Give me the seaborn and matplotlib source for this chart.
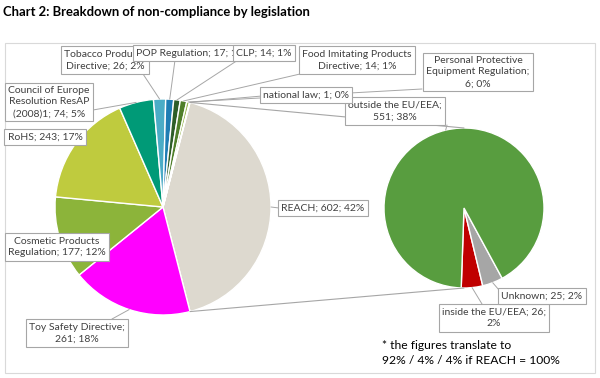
import matplotlib
matplotlib.use("Agg")
import matplotlib.pyplot as plt
import seaborn as sns
from matplotlib.patches import Rectangle
import numpy as np

# data
categories = ["REACH", "Toy Safety Directive", "Cosmetic Products Regulation", "RoHS",
              "Council of Europe Resolution ResAP (2008)1", "Tobacco Products Directive",
              "POP Regulation", "CLP", "Food Imitating Products Directive",
              "Personal Protective Equipment Regulation", "national law"]
counts = [602, 261, 177, 243, 74, 26, 17, 14, 14, 6, 1]
label_fmt = ["REACH; {v}; {p}%", "Toy Safety Directive;\n{v}; {p}%",
             "Cosmetic Products\nRegulation; {v}; {p}%", "RoHS; {v}; {p}%",
             "Council of Europe\nResolution ResAP\n(2008)1; {v}; {p}%",
             "Tobacco Products\nDirective; {v}; {p}%", "POP Regulation; {v}; {p}%",
             "CLP; {v}; {p}%", "Food Imitating Products\nDirective; {v}; {p}%",
             "Personal Protective\nEquipment Regulation;\n{v}; {p}%", "national law; {v}; {p}%"]

reach_parts = ["inside the EU/EEA", "Unknown", "outside the EU/EEA"]
reach_counts = [26, 25, 551]
reach_fmt = ["inside the EU/EEA; {v};\n{p}%", "Unknown; {v}; {p}%", "outside the EU/EEA;\n{v}; {p}%"]

colors_main = ["#DDD9CF", "#FF00FF", "#8CB43A", "#BFCB3E", "#009A77", "#4BACC6",
               "#1F7DB4", "#2E5E28", "#4F7F2A", "#9BBB59", "#C4D79B"]
colors_sub = ["#C00000", "#A6A6A6", "#589D3F"]

sns.set_style("white")
plt.rcParams["font.family"] = ["Lato", "DejaVu Sans"]

W, H = 600, 378
fig = plt.figure(figsize=(6, 3.78), dpi=100)
ax = fig.add_axes([0, 0, 1, 1])

def Y(y):  # pixel-from-top -> data
    return H - y

total = sum(counts)
c1, r1 = (163, Y(207)), 108
c2, r2 = (464, Y(208)), 80

start1 = 180 * counts[0] / total
w1, _ = ax.pie(counts, colors=colors_main, startangle=start1, counterclock=False,
               center=c1, radius=r1, wedgeprops=dict(edgecolor="white", linewidth=1))
w2, _ = ax.pie(reach_counts, colors=colors_sub, startangle=-92, counterclock=True,
               center=c2, radius=r2, wedgeprops=dict(edgecolor="white", linewidth=1))

ax.set_xlim(0, W)
ax.set_ylim(0, H)
ax.axis("off")

grey = "#A6A6A6"

# connector lines between pies
reach = w1[0]
for th, ty in [(reach.theta2, c2[1] + r2), (reach.theta1, c2[1] - r2)]:
    x0 = c1[0] + r1 * np.cos(np.radians(th))
    y0 = c1[1] + r1 * np.sin(np.radians(th))
    ax.plot([x0, c2[0]], [y0, ty], color=grey, lw=0.8, zorder=1)

def edge_point(w, c, r):
    m = np.radians((w.theta1 + w.theta2) / 2)
    return c[0] + r * np.cos(m), c[1] + r * np.sin(m)

# label box centres and leader anchors (px from top-left)
pos_main = [(323, 208), (77, 333), (57, 247), (45, 137), (49, 102), (105, 60),
            (191, 53), (264, 53), (357, 60), (478, 72), (306, 95)]
anchor_main = [(279, 208), (112, 319), None, None, (93, 110), (143, 74),
               (175, 60), (238, 60), (300, 74), (422, 89), (262, 96)]
z_main = [5, 5, 5, 5, 5, 5, 6, 7, 5, 5, 6]
pos_sub = [(494, 318), (542, 296), (395, 111)]
anchor_sub = [(482, 304), (499, 290), (447, 125)]

box = dict(boxstyle="square,pad=0.3", fc="white", ec=grey, lw=0.8)
tc = "#404040"

def put_labels(wedges, vals, fmts, pos, anchors, c, r, zs=None):
    for i, w in enumerate(wedges):
        p = round(vals[i] / total * 100)
        txt = fmts[i].format(v=vals[i], p=p)
        z = zs[i] if zs else 5
        ax.text(pos[i][0], Y(pos[i][1]), txt, ha="center", va="center", fontsize=7.5,
                color=tc, bbox=box, zorder=z, linespacing=1.4)
        if anchors[i] is not None:
            ex, ey = edge_point(w, c, r)
            ax.plot([anchors[i][0], ex], [Y(anchors[i][1]), ey], color=grey, lw=0.7, zorder=2)

put_labels(w1, counts, label_fmt, pos_main, anchor_main, c1, r1, z_main)
put_labels(w2, reach_counts, reach_fmt, pos_sub, anchor_sub, c2, r2)

# chart border
ax.add_patch(Rectangle((5, Y(373)), 590, 330, fill=False, ec="#D9D9D9", lw=0.8, zorder=0))

fig.text(3 / W, 1 - 12 / H, "Chart 2: Breakdown of non-compliance by legislation",
         fontsize=9.4, fontweight="bold", va="center", ha="left", color="black")
ax.text(382, Y(353), "* the figures translate to\n92% / 4% / 4% if REACH = 100%",
        fontsize=8.7, ha="left", va="center", color="black", linespacing=1.5)

fig.savefig("out.png", dpi=100)
